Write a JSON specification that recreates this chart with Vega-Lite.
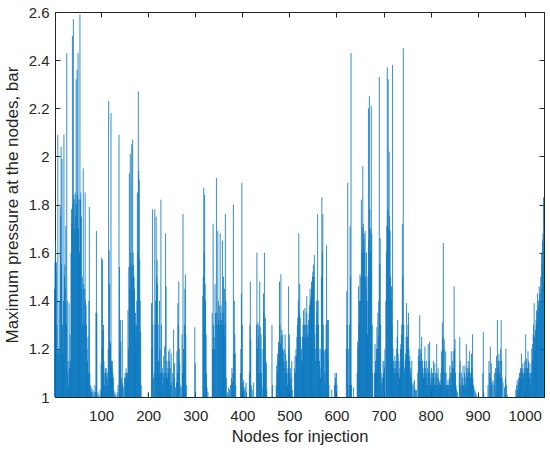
{
"$schema":"https://vega.github.io/schema/vega-lite/v6.json",
"autosize":"none",
"width":489,"height":385,
"padding":{"left":55,"top":12,"right":6,"bottom":53},
"background":"white",
"config":{"view":{"stroke":"#262626","strokeWidth":1},"font":"Liberation Sans"},
"data":{"values":[
{"n":1,"p":1.45},{"n":2,"p":1.56},{"n":3,"p":1.65},{"n":4,"p":1.52},{"n":5,"p":1.56},{"n":6,"p":1.3},{"n":7,"p":1.19},{"n":8,"p":2.09},{"n":9,"p":1.2},{"n":10,"p":1.18},
{"n":11,"p":1.4},{"n":12,"p":1.2},{"n":13,"p":1.79},{"n":14,"p":1.75},{"n":15,"p":2.04},{"n":16,"p":1.55},{"n":17,"p":1.99},{"n":18,"p":1.3},{"n":19,"p":1.18},{"n":20,"p":1.4},
{"n":21,"p":2.09},{"n":22,"p":1.5},{"n":23,"p":1.55},{"n":24,"p":1.45},{"n":25,"p":1.71},{"n":26,"p":1.3},{"n":27,"p":2.43},{"n":28,"p":1.4},{"n":29,"p":1.1},{"n":30,"p":1.15},
{"n":31,"p":1.05},{"n":32,"p":1.39},{"n":33,"p":1.12},{"n":34,"p":1.26},{"n":35,"p":1.15},{"n":36,"p":1.6},{"n":37,"p":1.78},{"n":38,"p":1.72},{"n":39,"p":2.5},{"n":40,"p":1.8},
{"n":41,"p":2.57},{"n":42,"p":1.84},{"n":43,"p":1.7},{"n":44,"p":1.82},{"n":45,"p":1.85},{"n":46,"p":1.75},{"n":47,"p":2.32},{"n":48,"p":1.8},{"n":49,"p":2.36},{"n":50,"p":1.84},
{"n":51,"p":2.43},{"n":52,"p":1.7},{"n":53,"p":1.82},{"n":54,"p":1.6},{"n":55,"p":2.59},{"n":56,"p":1.82},{"n":57,"p":1.85},{"n":58,"p":1.75},{"n":59,"p":1.45},{"n":60,"p":1.5},
{"n":61,"p":1.3},{"n":62,"p":1.95},{"n":63,"p":1.47},{"n":64,"p":1.3},{"n":65,"p":1.45},{"n":66,"p":1.85},{"n":67,"p":1.4},{"n":68,"p":1.38},{"n":69,"p":1.3},{"n":70,"p":1.2},
{"n":71,"p":1.15},{"n":72,"p":1.25},{"n":73,"p":1.1},{"n":74,"p":1.4},{"n":75,"p":1.79},{"n":76,"p":1.1},{"n":77,"p":1.05},{"n":78,"p":1.03},{"n":79,"p":1.02},{"n":80,"p":1.04},
{"n":81,"p":1.02},{"n":83,"p":1.03},{"n":85,"p":1.02},{"n":87,"p":1.05},{"n":88,"p":1.02},{"n":89,"p":1.35},{"n":90,"p":1.69},{"n":91,"p":1.35},{"n":93,"p":1.02},{"n":95,"p":1.01},{"n":98,"p":1.03},{"n":100,"p":1.14},
{"n":101,"p":1.58},{"n":102,"p":1.2},{"n":103,"p":1.57},{"n":104,"p":1.28},{"n":105,"p":1.3},{"n":106,"p":1.15},{"n":107,"p":1.05},{"n":108,"p":1.1},{"n":109,"p":1.12},{"n":110,"p":1.1},
{"n":111,"p":1.12},{"n":112,"p":1.08},{"n":113,"p":1.05},{"n":114,"p":1.1},{"n":115,"p":1.2},{"n":116,"p":2.23},{"n":117,"p":1.61},{"n":118,"p":1.47},{"n":119,"p":1.23},{"n":120,"p":1.22},
{"n":121,"p":2.18},{"n":122,"p":1.15},{"n":123,"p":1.12},{"n":124,"p":1.15},{"n":125,"p":1.1},{"n":126,"p":1.08},{"n":127,"p":1.03},{"n":129,"p":1.02},{"n":131,"p":1.01},{"n":134,"p":1.02},{"n":136,"p":1.05},{"n":138,"p":2.09},{"n":139,"p":1.54},{"n":140,"p":1.2},
{"n":141,"p":1.32},{"n":142,"p":1.23},{"n":143,"p":1.08},{"n":144,"p":1.05},{"n":145,"p":1.32},{"n":146,"p":1.06},{"n":148,"p":1.04},{"n":150,"p":1.08},
{"n":151,"p":1.1},{"n":152,"p":1.08},{"n":153,"p":1.12},{"n":154,"p":1.1},{"n":155,"p":1.06},{"n":156,"p":1.1},{"n":157,"p":1.36},{"n":158,"p":1.2},{"n":159,"p":1.54},{"n":160,"p":1.93},
{"n":161,"p":1.45},{"n":162,"p":2.01},{"n":163,"p":1.6},{"n":164,"p":1.55},{"n":165,"p":2.05},{"n":166,"p":1.5},{"n":167,"p":2.07},{"n":168,"p":1.6},{"n":169,"p":1.55},{"n":170,"p":1.5},
{"n":171,"p":1.45},{"n":172,"p":1.3},{"n":173,"p":1.35},{"n":174,"p":1.25},{"n":175,"p":1.3},{"n":176,"p":1.4},{"n":177,"p":1.85},{"n":178,"p":1.6},{"n":179,"p":2.27},{"n":180,"p":1.94},
{"n":181,"p":1.9},{"n":182,"p":1.57},{"n":183,"p":1.4},{"n":184,"p":1.27},{"n":185,"p":1.05},{"n":200,"p":1.02},
{"n":207,"p":1.39},{"n":208,"p":1.2},{"n":209,"p":1.78},{"n":210,"p":1.3},{"n":211,"p":1.08},{"n":213,"p":1.1},{"n":214,"p":1.78},{"n":215,"p":1.3},{"n":216,"p":1.4},{"n":217,"p":1.75},{"n":218,"p":1.5},{"n":219,"p":1.57},{"n":220,"p":1.47},
{"n":221,"p":1.3},{"n":222,"p":1.15},{"n":223,"p":1.1},{"n":224,"p":1.4},{"n":225,"p":1.2},{"n":226,"p":1.1},{"n":227,"p":1.82},{"n":228,"p":1.3},{"n":229,"p":1.1},{"n":230,"p":1.12},
{"n":231,"p":1.05},{"n":232,"p":1.1},{"n":233,"p":1.17},{"n":234,"p":1.08},{"n":235,"p":1.21},{"n":236,"p":1.1},{"n":237,"p":1.68},{"n":238,"p":1.46},{"n":239,"p":1.1},{"n":240,"p":1.15},
{"n":241,"p":1.08},{"n":242,"p":1.12},{"n":243,"p":1.19},{"n":244,"p":1.1},{"n":245,"p":1.15},{"n":246,"p":1.2},{"n":247,"p":1.12},{"n":248,"p":1.05},{"n":249,"p":1.18},{"n":250,"p":1.06},
{"n":252,"p":1.1},{"n":254,"p":1.28},{"n":255,"p":1.08},{"n":256,"p":1.14},{"n":258,"p":1.04},{"n":260,"p":1.06},{"n":261,"p":1.19},{"n":262,"p":1.1},{"n":263,"p":1.39},{"n":264,"p":1.3},{"n":265,"p":1.48},{"n":266,"p":1.2},{"n":267,"p":1.14},{"n":268,"p":1.05},{"n":270,"p":1.04},
{"n":272,"p":1.26},{"n":273,"p":1.1},{"n":274,"p":1.76},{"n":275,"p":1.2},{"n":276,"p":1.15},{"n":277,"p":1.3},{"n":278,"p":1.45},{"n":279,"p":1.51},{"n":280,"p":1.26},{"n":281,"p":1.05},
{"n":299,"p":1.29},{"n":300,"p":1.14},
{"n":316,"p":1.42},{"n":317,"p":1.5},{"n":318,"p":1.87},{"n":319,"p":1.6},{"n":320,"p":1.84},{"n":321,"p":1.47},{"n":322,"p":1.4},{"n":323,"p":1.26},{"n":324,"p":1.1},{"n":325,"p":1.04},{"n":327,"p":1.02},
{"n":336,"p":1.35},{"n":337,"p":1.2},{"n":338,"p":1.72},{"n":339,"p":1.3},{"n":340,"p":1.25},{"n":341,"p":1.2},{"n":342,"p":1.47},{"n":343,"p":1.35},{"n":345,"p":1.91},{"n":346,"p":1.35},{"n":347,"p":1.3},{"n":348,"p":1.69},{"n":349,"p":1.4},{"n":350,"p":1.32},
{"n":351,"p":1.38},{"n":352,"p":1.3},{"n":353,"p":1.68},{"n":354,"p":1.35},{"n":355,"p":1.38},{"n":356,"p":1.32},{"n":357,"p":1.3},{"n":358,"p":1.65},{"n":359,"p":1.35},{"n":360,"p":1.5},
{"n":361,"p":1.3},{"n":362,"p":1.45},{"n":363,"p":1.25},{"n":364,"p":1.76},{"n":365,"p":1.4},{"n":366,"p":1.08},{"n":367,"p":1.01},{"n":369,"p":1.02},{"n":371,"p":1.04},{"n":373,"p":1.03},{"n":375,"p":1.05},{"n":377,"p":1.08},{"n":378,"p":1.12},{"n":379,"p":1.06},{"n":380,"p":1.1},
{"n":381,"p":1.8},{"n":382,"p":1.18},{"n":383,"p":1.4},{"n":384,"p":1.26},{"n":385,"p":1.18},{"n":386,"p":1.05},
{"n":396,"p":1.1},{"n":397,"p":1.2},{"n":398,"p":1.43},{"n":399,"p":1.89},{"n":400,"p":1.3},{"n":401,"p":1.06},{"n":402,"p":1.04},{"n":403,"p":1.07},{"n":405,"p":1.03},{"n":406,"p":1.04},{"n":408,"p":1.06},{"n":409,"p":1.02},
{"n":415,"p":1.1},{"n":416,"p":1.3},{"n":417,"p":1.48},{"n":418,"p":1.24},{"n":419,"p":1.05},{"n":421,"p":1.03},{"n":424,"p":1.06},
{"n":430,"p":1.3},{"n":431,"p":1.6},{"n":432,"p":1.2},{"n":433,"p":1.31},{"n":434,"p":1.25},{"n":435,"p":1.3},{"n":436,"p":1.1},{"n":437,"p":1.48},{"n":438,"p":1.29},{"n":439,"p":1.2},{"n":440,"p":1.26},
{"n":441,"p":1.1},{"n":442,"p":1.04},{"n":444,"p":1.2},{"n":445,"p":1.43},{"n":446,"p":1.35},{"n":447,"p":1.6},{"n":448,"p":1.25},{"n":449,"p":1.33},{"n":450,"p":1.15},{"n":451,"p":1.14},{"n":452,"p":1.03},
{"n":463,"p":1.3},{"n":464,"p":1.05},
{"n":472,"p":1.05},{"n":473,"p":1.13},{"n":474,"p":1.1},{"n":475,"p":1.18},{"n":476,"p":1.15},{"n":477,"p":1.23},{"n":478,"p":1.2},{"n":479,"p":1.48},{"n":480,"p":1.3},
{"n":481,"p":1.22},{"n":482,"p":1.51},{"n":483,"p":1.25},{"n":484,"p":1.28},{"n":485,"p":1.2},{"n":486,"p":1.26},{"n":487,"p":1.19},{"n":488,"p":1.15},{"n":489,"p":1.2},{"n":490,"p":1.12},
{"n":491,"p":1.26},{"n":492,"p":1.18},{"n":493,"p":1.1},{"n":494,"p":1.15},{"n":495,"p":1.1},{"n":496,"p":1.05},{"n":497,"p":1.12},{"n":498,"p":1.46},{"n":499,"p":1.2},{"n":500,"p":1.26},
{"n":501,"p":1.1},{"n":502,"p":1.12},{"n":503,"p":1.05},{"n":504,"p":1.08},{"n":505,"p":1.15},{"n":506,"p":1.03},
{"n":511,"p":1.12},{"n":512,"p":1.17},{"n":513,"p":1.1},{"n":514,"p":1.2},{"n":515,"p":1.17},{"n":516,"p":1.25},{"n":517,"p":1.3},{"n":518,"p":1.33},{"n":519,"p":1.4},{"n":520,"p":1.68},
{"n":521,"p":1.35},{"n":522,"p":1.47},{"n":523,"p":1.33},{"n":524,"p":1.25},{"n":525,"p":1.15},{"n":526,"p":1.2},{"n":527,"p":1.15},{"n":528,"p":1.25},{"n":529,"p":1.3},{"n":530,"p":1.36},
{"n":531,"p":1.25},{"n":532,"p":1.3},{"n":533,"p":1.37},{"n":534,"p":1.3},{"n":535,"p":1.25},{"n":536,"p":1.35},{"n":537,"p":1.42},{"n":538,"p":1.3},{"n":539,"p":1.25},{"n":540,"p":1.26},
{"n":541,"p":1.32},{"n":542,"p":1.35},{"n":543,"p":1.38},{"n":544,"p":1.45},{"n":545,"p":1.4},{"n":546,"p":1.42},{"n":547,"p":1.48},{"n":548,"p":1.45},{"n":549,"p":1.5},{"n":550,"p":1.52},
{"n":551,"p":1.55},{"n":552,"p":1.5},{"n":553,"p":1.59},{"n":554,"p":1.26},{"n":555,"p":1.2},{"n":556,"p":1.15},{"n":557,"p":1.3},{"n":558,"p":1.4},{"n":559,"p":1.35},{"n":560,"p":1.76},
{"n":561,"p":1.4},{"n":562,"p":1.3},{"n":563,"p":1.2},{"n":564,"p":1.15},{"n":565,"p":1.12},{"n":566,"p":1.08},{"n":567,"p":1.2},{"n":568,"p":1.5},{"n":569,"p":1.83},{"n":570,"p":1.6},
{"n":571,"p":1.76},{"n":572,"p":1.3},{"n":573,"p":1.2},{"n":574,"p":1.19},{"n":575,"p":1.1},{"n":576,"p":1.05},{"n":577,"p":1.2},{"n":578,"p":1.3},{"n":579,"p":1.63},{"n":580,"p":1.2},
{"n":581,"p":1.32},{"n":582,"p":1.15},{"n":583,"p":1.32},{"n":584,"p":1.05},
{"n":590,"p":1.03},{"n":596,"p":1.05},{"n":597,"p":1.1},{"n":598,"p":1.08},{"n":600,"p":1.1},{"n":601,"p":1.05},
{"n":621,"p":1.2},{"n":622,"p":1.44},{"n":623,"p":1.3},{"n":624,"p":1.89},{"n":625,"p":1.2},{"n":627,"p":1.05},{"n":628,"p":1.3},{"n":629,"p":1.71},{"n":630,"p":1.5},{"n":631,"p":2.43},{"n":632,"p":1.05},{"n":636,"p":1.04},
{"n":644,"p":1.1},{"n":645,"p":1.23},{"n":646,"p":1.2},{"n":647,"p":1.46},{"n":648,"p":1.3},{"n":649,"p":1.4},{"n":650,"p":1.51},
{"n":651,"p":1.4},{"n":652,"p":1.5},{"n":653,"p":1.82},{"n":654,"p":1.6},{"n":655,"p":1.7},{"n":656,"p":1.96},{"n":657,"p":1.72},{"n":658,"p":1.65},{"n":659,"p":1.68},{"n":660,"p":1.6},
{"n":661,"p":1.69},{"n":662,"p":1.5},{"n":663,"p":1.45},{"n":664,"p":1.6},{"n":665,"p":1.4},{"n":666,"p":1.26},{"n":667,"p":1.5},{"n":668,"p":2.2},{"n":669,"p":1.65},{"n":670,"p":2.25},
{"n":671,"p":1.78},{"n":672,"p":1.7},{"n":673,"p":1.6},{"n":674,"p":2.21},{"n":675,"p":1.68},{"n":676,"p":1.3},{"n":677,"p":1.1},
{"n":681,"p":1.1},{"n":682,"p":1.22},{"n":683,"p":1.15},{"n":684,"p":1.11},{"n":685,"p":1.2},{"n":686,"p":1.29},{"n":687,"p":1.2},{"n":688,"p":1.35},{"n":689,"p":1.25},{"n":690,"p":1.4},
{"n":691,"p":2.33},{"n":692,"p":1.55},{"n":693,"p":1.66},{"n":694,"p":1.3},{"n":695,"p":1.1},{"n":696,"p":1.06},{"n":698,"p":1.08},{"n":699,"p":1.15},{"n":700,"p":1.1},
{"n":701,"p":1.15},{"n":702,"p":1.12},{"n":703,"p":1.2},{"n":705,"p":1.4},{"n":706,"p":1.6},{"n":707,"p":1.71},{"n":708,"p":2.37},{"n":709,"p":1.78},{"n":710,"p":2.32},
{"n":711,"p":1.7},{"n":712,"p":2.02},{"n":713,"p":1.75},{"n":714,"p":1.69},{"n":715,"p":1.5},{"n":716,"p":1.4},{"n":717,"p":1.46},{"n":718,"p":1.3},{"n":719,"p":2.38},{"n":720,"p":1.2},
{"n":721,"p":1.15},{"n":722,"p":1.12},{"n":723,"p":1.1},{"n":724,"p":1.17},{"n":725,"p":1.12},{"n":726,"p":1.15},{"n":727,"p":1.1},{"n":728,"p":1.2},{"n":729,"p":1.25},{"n":730,"p":1.32},
{"n":731,"p":1.18},{"n":732,"p":1.1},{"n":733,"p":1.15},{"n":734,"p":1.08},{"n":735,"p":1.12},{"n":736,"p":1.2},{"n":737,"p":1.22},{"n":738,"p":1.26},{"n":739,"p":1.3},{"n":740,"p":1.72},
{"n":741,"p":1.5},{"n":742,"p":2.45},{"n":743,"p":1.3},{"n":744,"p":1.12},{"n":745,"p":1.1},{"n":746,"p":1.15},{"n":747,"p":1.18},{"n":748,"p":1.25},{"n":749,"p":1.39},{"n":750,"p":1.2},
{"n":751,"p":1.25},{"n":752,"p":1.3},{"n":753,"p":1.35},{"n":754,"p":1.2},{"n":755,"p":1.15},{"n":756,"p":1.17},{"n":757,"p":1.1},{"n":758,"p":1.12},{"n":759,"p":1.08},{"n":760,"p":1.15},
{"n":761,"p":1.05},{"n":763,"p":1.06},{"n":765,"p":1.04},{"n":766,"p":1.07},{"n":768,"p":1.03},{"n":770,"p":1.03},
{"n":773,"p":1.1},{"n":774,"p":1.17},{"n":775,"p":1.2},{"n":776,"p":1.15},{"n":777,"p":1.34},{"n":778,"p":1.2},{"n":779,"p":1.15},{"n":780,"p":1.18},
{"n":781,"p":1.25},{"n":782,"p":1.1},{"n":783,"p":1.15},{"n":784,"p":1.12},{"n":785,"p":1.08},{"n":786,"p":1.1},{"n":787,"p":1.15},{"n":788,"p":1.21},{"n":789,"p":1.12},{"n":790,"p":1.08},
{"n":791,"p":1.15},{"n":792,"p":1.1},{"n":793,"p":1.05},{"n":794,"p":1.12},{"n":795,"p":1.22},{"n":796,"p":1.1},{"n":797,"p":1.15},{"n":798,"p":1.23},{"n":799,"p":1.1},{"n":800,"p":1.05},
{"n":801,"p":1.08},{"n":802,"p":1.12},{"n":803,"p":1.05},{"n":804,"p":1.1},{"n":805,"p":1.08},{"n":806,"p":1.15},{"n":807,"p":1.1},{"n":808,"p":1.05},{"n":809,"p":1.14},{"n":810,"p":1.05},
{"n":811,"p":1.1},{"n":812,"p":1.08},{"n":813,"p":1.22},{"n":814,"p":1.1},{"n":815,"p":1.05},{"n":816,"p":1.12},{"n":817,"p":1.08},{"n":818,"p":1.04},{"n":819,"p":1.06},{"n":820,"p":1.07},
{"n":821,"p":1.05},{"n":822,"p":1.1},{"n":823,"p":1.19},{"n":824,"p":1.12},{"n":825,"p":1.31},{"n":826,"p":1.25},{"n":827,"p":1.64},{"n":828,"p":1.2},{"n":829,"p":1.24},{"n":830,"p":1.1},
{"n":831,"p":1.05},{"n":832,"p":1.19},{"n":833,"p":1.1},{"n":834,"p":1.05},{"n":835,"p":1.03},{"n":836,"p":1.05},{"n":837,"p":1.07},{"n":838,"p":1.05},{"n":840,"p":1.08},
{"n":841,"p":1.13},{"n":842,"p":1.1},{"n":843,"p":1.05},{"n":844,"p":1.19},{"n":845,"p":1.1},{"n":846,"p":1.12},{"n":847,"p":1.15},{"n":848,"p":1.19},{"n":849,"p":1.12},{"n":850,"p":1.46},
{"n":851,"p":1.2},{"n":852,"p":1.24},{"n":853,"p":1.1},{"n":854,"p":1.05},{"n":855,"p":1.03},{"n":857,"p":1.02},
{"n":861,"p":1.1},{"n":862,"p":1.25},{"n":863,"p":1.15},{"n":864,"p":1.05},{"n":866,"p":1.1},{"n":867,"p":1.05},{"n":868,"p":1.08},{"n":869,"p":1.13},{"n":870,"p":1.05},
{"n":872,"p":1.1},{"n":873,"p":1.13},{"n":874,"p":1.05},{"n":875,"p":1.08},{"n":876,"p":1.22},{"n":877,"p":1.1},{"n":878,"p":1.12},{"n":879,"p":1.08},{"n":880,"p":1.15},
{"n":881,"p":1.1},{"n":882,"p":1.12},{"n":883,"p":1.19},{"n":884,"p":1.1},{"n":885,"p":1.08},{"n":886,"p":1.1},{"n":887,"p":1.18},{"n":888,"p":1.12},{"n":889,"p":1.26},{"n":890,"p":1.08},
{"n":891,"p":1.05},{"n":892,"p":1.04},{"n":894,"p":1.03},{"n":896,"p":1.02},{"n":897,"p":1.01},
{"n":911,"p":1.1},{"n":912,"p":1.27},{"n":913,"p":1.02},
{"n":922,"p":1.05},{"n":924,"p":1.15},{"n":925,"p":1.1},{"n":927,"p":1.21},{"n":928,"p":1.08},{"n":929,"p":1.14},{"n":930,"p":1.05},{"n":931,"p":1.06},{"n":933,"p":1.07},{"n":935,"p":1.05},
{"n":936,"p":1.1},{"n":938,"p":1.12},{"n":940,"p":1.17},{"n":941,"p":1.1},{"n":942,"p":1.32},{"n":943,"p":1.12},{"n":944,"p":1.15},{"n":945,"p":1.18},{"n":946,"p":1.1},{"n":947,"p":1.15},
{"n":948,"p":1.08},{"n":949,"p":1.2},{"n":950,"p":1.32},{"n":951,"p":1.15},{"n":952,"p":1.08},{"n":954,"p":1.06},{"n":957,"p":1.04},{"n":959,"p":1.08},{"n":960,"p":1.2},{"n":961,"p":1.05},{"n":963,"p":1.01},
{"n":981,"p":1.03},{"n":983,"p":1.05},{"n":984,"p":1.07},{"n":985,"p":1.03},{"n":986,"p":1.05},{"n":987,"p":1.08},{"n":988,"p":1.06},{"n":989,"p":1.1},{"n":990,"p":1.08},
{"n":991,"p":1.12},{"n":992,"p":1.1},{"n":993,"p":1.18},{"n":994,"p":1.12},{"n":995,"p":1.1},{"n":996,"p":1.14},{"n":997,"p":1.08},{"n":998,"p":1.1},{"n":999,"p":1.12},{"n":1000,"p":1.15},
{"n":1001,"p":1.1},{"n":1002,"p":1.26},{"n":1003,"p":1.12},{"n":1004,"p":1.16},{"n":1005,"p":1.1},{"n":1006,"p":1.12},{"n":1007,"p":1.19},{"n":1008,"p":1.15},{"n":1009,"p":1.1},{"n":1010,"p":1.08},
{"n":1011,"p":1.14},{"n":1012,"p":1.1},{"n":1013,"p":1.05},{"n":1014,"p":1.1},{"n":1015,"p":1.2},{"n":1016,"p":1.15},{"n":1017,"p":1.22},{"n":1018,"p":1.26},{"n":1019,"p":1.3},{"n":1020,"p":1.39},
{"n":1021,"p":1.25},{"n":1022,"p":1.19},{"n":1023,"p":1.28},{"n":1024,"p":1.32},{"n":1025,"p":1.36},{"n":1026,"p":1.3},{"n":1027,"p":1.43},{"n":1028,"p":1.35},{"n":1029,"p":1.4},{"n":1030,"p":1.38},
{"n":1031,"p":1.46},{"n":1032,"p":1.43},{"n":1033,"p":1.4},{"n":1034,"p":1.5},{"n":1035,"p":1.45},{"n":1036,"p":1.6},{"n":1037,"p":1.55},{"n":1038,"p":1.65},{"n":1039,"p":1.68},{"n":1040,"p":1.83}
]},
"layer":[
{"mark":{"type":"rule","color":"#0072BD","strokeWidth":0.8},
 "encoding":{
  "x":{"field":"n","type":"quantitative","scale":{"domain":[2,1041],"nice":false,"zero":false},
   "axis":{"values":[100,200,300,400,500,600,700,800,900,1000],"format":"d","title":"Nodes for injection","grid":false,
    "labelFontSize":15,"labelColor":"#262626","titleFontSize":16.5,"titleFontWeight":"normal","titleColor":"#262626",
    "domainColor":"#262626","tickColor":"#262626","tickSize":-5,"labelPadding":16,"titlePadding":5,"labelFlush":false}},
  "y":{"field":"p","type":"quantitative","scale":{"domain":[1,2.6],"nice":false,"zero":false},
   "axis":{"values":[1,1.2,1.4,1.6,1.8,2,2.2,2.4,2.6],"format":"~g","title":"Maximum pressure at the nodes, bar","grid":false,
    "labelFontSize":15,"labelColor":"#262626","titleFontSize":17,"titleFontWeight":"normal","titleColor":"#262626",
    "domainColor":"#262626","tickColor":"#262626","tickSize":-5,"labelPadding":11,"titlePadding":7,"labelFlush":false}},
  "y2":{"datum":1}}},
{"mark":{"type":"point","opacity":0},
 "encoding":{
  "x":{"field":"n","type":"quantitative","axis":{"orient":"top","values":[100,200,300,400,500,600,700,800,900,1000],"labels":false,"title":null,"domain":false,"grid":false,"tickColor":"#262626","tickSize":-5}},
  "y":{"field":"p","type":"quantitative","axis":{"orient":"right","values":[1,1.2,1.4,1.6,1.8,2,2.2,2.4,2.6],"labels":false,"title":null,"domain":false,"grid":false,"tickColor":"#262626","tickSize":-5}}}}
],
"resolve":{"axis":{"x":"independent","y":"independent"}}
}
